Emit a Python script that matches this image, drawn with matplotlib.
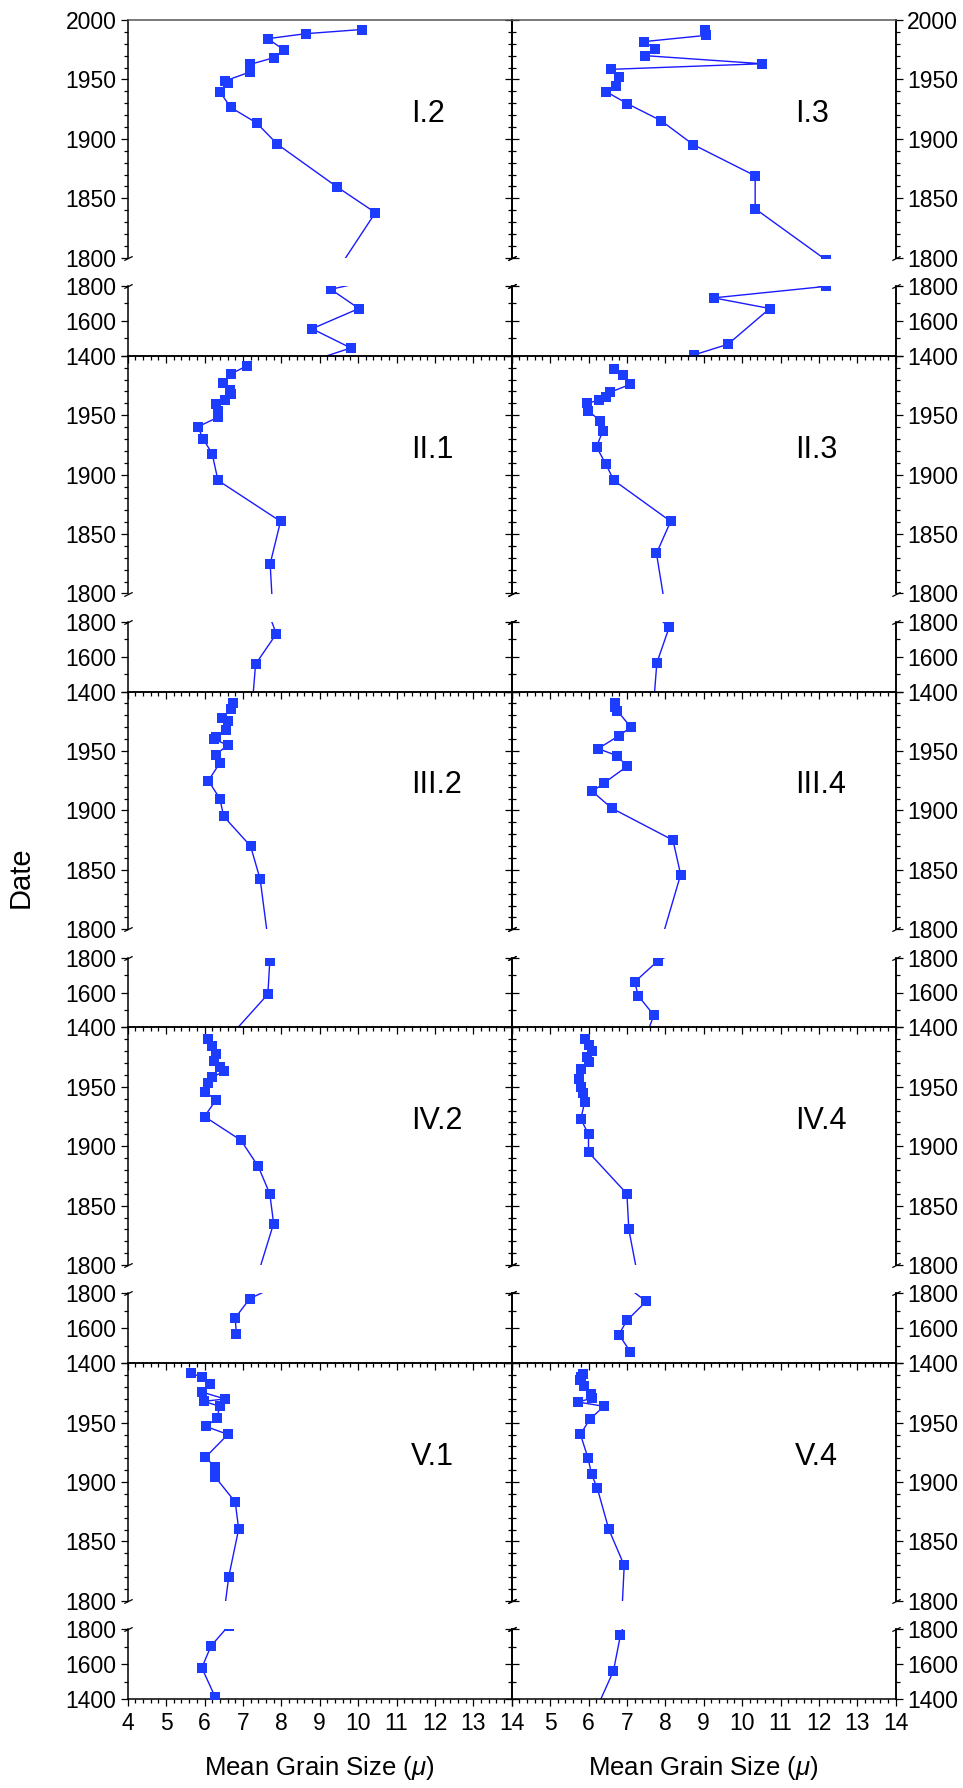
import matplotlib
matplotlib.use("Agg")
import matplotlib.pyplot as plt
from matplotlib.ticker import MultipleLocator

plt.rcParams['font.family'] = ['Liberation Sans', 'DejaVu Sans']
plt.rcParams['mathtext.fontset'] = 'custom'
plt.rcParams['mathtext.it'] = 'Liberation Sans:italic'
plt.rcParams['mathtext.rm'] = 'Liberation Sans'

# ---- data: (date, mean grain size) per core ----
I2_date = [1992, 1988.5, 1984.3, 1975, 1968.3, 1962.7, 1956.2, 1948.7, 1946.7, 1939.7, 1926.5,
           1913.3, 1895.4, 1859.8, 1837.9, 1781, 1671, 1555, 1445, 1350]
I2_size = [10.10, 8.64, 7.65, 8.06, 7.81, 7.19, 7.18, 6.53, 6.62, 6.40, 6.68,
           7.36, 7.90, 9.44, 10.45, 9.29, 10.02, 8.80, 9.81, 8.5]

I3_date = [1991.8, 1987.1, 1981.8, 1975.9, 1970, 1963.2, 1958.5, 1952.3, 1944.2, 1939.7, 1929.6,
           1915.3, 1895.1, 1868.9, 1841.2, 1798, 1732, 1671, 1466, 1406]
I3_size = [9.03, 9.07, 7.44, 7.74, 7.48, 10.52, 6.59, 6.80, 6.72, 6.46, 7.01,
           7.89, 8.73, 10.34, 10.34, 12.19, 9.26, 10.72, 9.63, 8.76]

II1_date = [1991.7, 1984.9, 1977.4, 1971.2, 1967.6, 1963.1, 1959.2, 1953.8, 1948.3, 1940.3, 1930.3,
            1917.6, 1895.2, 1860.7, 1825, 1731, 1557, 1340]
II1_size = [7.11, 6.70, 6.49, 6.66, 6.70, 6.53, 6.30, 6.35, 6.35, 5.83, 5.96,
            6.20, 6.35, 7.98, 7.71, 7.87, 7.33, 7.25]

II3_date = [1988.9, 1983.6, 1976, 1969.3, 1965.6, 1962.8, 1960, 1953.8, 1945.1, 1936.7, 1923.3,
            1909, 1895.2, 1860.7, 1833.8, 1768, 1565, 1340]
II3_size = [6.66, 6.89, 7.09, 6.56, 6.45, 6.27, 5.97, 5.99, 6.31, 6.37, 6.21,
            6.45, 6.66, 8.14, 7.77, 8.10, 7.78, 7.70]

III2_date = [1990, 1985, 1978, 1975, 1968, 1962, 1960, 1955, 1947, 1940, 1925,
             1910, 1895, 1870, 1842, 1780, 1590, 1370]
III2_size = [6.75, 6.70, 6.45, 6.60, 6.55, 6.30, 6.25, 6.60, 6.30, 6.40, 6.10,
             6.40, 6.50, 7.20, 7.45, 7.70, 7.65, 6.75]

III4_date = [1990, 1987, 1984, 1970, 1963, 1952, 1946, 1937, 1923, 1916, 1902,
             1875, 1846, 1780, 1660, 1580, 1470, 1350]
III4_size = [6.70, 6.70, 6.75, 7.10, 6.80, 6.25, 6.75, 7.00, 6.40, 6.10, 6.60,
             8.20, 8.40, 7.80, 7.20, 7.30, 7.70, 7.50]

IV2_date = [1990, 1984, 1978, 1972, 1967, 1963, 1958, 1953, 1946, 1939, 1925,
            1905, 1883, 1860, 1835, 1770, 1660, 1565]
IV2_size = [6.10, 6.20, 6.30, 6.25, 6.40, 6.50, 6.20, 6.10, 6.00, 6.30, 6.00,
            6.95, 7.40, 7.70, 7.80, 7.18, 6.80, 6.83]

IV4_date = [1990, 1985, 1980, 1975, 1971, 1965, 1957, 1950, 1945, 1937, 1923,
            1910, 1895, 1860, 1830, 1754, 1645, 1564, 1466]
IV4_size = [5.90, 6.00, 6.10, 5.95, 6.00, 5.80, 5.75, 5.80, 5.85, 5.90, 5.80,
            6.00, 6.00, 7.00, 7.05, 7.50, 7.00, 6.79, 7.09]

V1_date = [1991.8, 1988.1, 1982.5, 1975.8, 1969.9, 1967.9, 1963.7, 1953.6, 1946.8, 1940.1,
           1920.7, 1912.7, 1904.2, 1883.2, 1860.5, 1820.1, 1704, 1579, 1410]
V1_size = [5.64, 5.93, 6.14, 5.93, 6.53, 5.98, 6.40, 6.32, 6.03, 6.61,
           6.02, 6.28, 6.28, 6.80, 6.89, 6.63, 6.17, 5.93, 6.28]

V4_date = [1990.9, 1988.4, 1985.5, 1981, 1974.3, 1970.4, 1967.4, 1963.7, 1952.7, 1940.1,
           1919.9, 1906.4, 1894.7, 1860.1, 1829.8, 1764, 1561, 1340]
V4_size = [5.86, 5.80, 5.78, 5.88, 6.07, 6.09, 5.72, 6.40, 6.03, 5.79,
           5.99, 6.08, 6.23, 6.53, 6.93, 6.83, 6.65, 6.20]

panels = [
    [("I.2", I2_date, I2_size), ("I.3", I3_date, I3_size)],
    [("II.1", II1_date, II1_size), ("II.3", II3_date, II3_size)],
    [("III.2", III2_date, III2_size), ("III.4", III4_date, III4_size)],
    [("IV.2", IV2_date, IV2_size), ("IV.4", IV4_date, IV4_size)],
    [("V.1", V1_date, V1_size), ("V.4", V4_date, V4_size)],
]
x_ticks = list(range(4, 15))

# ---- layout in pixels (top-left origin) ----
W, H = 963, 1788
LEFT = [127.7, 511.7]
AW = 384
TOP0, ROWH, UPH, GAP, LOWH = 20, 335.8, 237.7, 28.3, 69.8

LINE_C = "#1a1aff"
MARK_C = "#1c3cff"
TICK_FS = 16.5


def frac(x, y, w, h):
    return [x / W, 1 - (y + h) / H, w / W, h / H]


def style_y(ax, col, minor, ticks, labels):
    # left side ticks from the main axis, right side from a secondary axis
    ax.set_yticks(ticks)
    ax.set_yticklabels(labels if col == 0 else [])
    ax.yaxis.set_minor_locator(MultipleLocator(minor))
    ax.tick_params(axis="y", which="both", left=True, right=False,
                   direction="out" if col == 0 else "in", labelsize=TICK_FS, pad=3,
                   width=0.9)
    ax.tick_params(axis="y", which="major", length=5)
    ax.tick_params(axis="y", which="minor", length=3)
    sec = ax.secondary_yaxis("right")
    sec.set_yticks(ticks)
    sec.set_yticklabels(labels if col == 1 else [])
    sec.yaxis.set_minor_locator(MultipleLocator(minor))
    sec.tick_params(axis="y", which="both", direction="in" if col == 0 else "out",
                    labelsize=TICK_FS, pad=3, width=0.9)
    sec.tick_params(axis="y", which="major", length=5)
    sec.tick_params(axis="y", which="minor", length=3)
    sec.spines["right"].set_linewidth(1.1)


brk = dict(marker=[(-1, -0.5), (1, 0.5)], markersize=6, linestyle="none",
           color="k", mec="k", mew=0.9, clip_on=False)

fig = plt.figure(figsize=(W / 100, H / 100), dpi=100)

for r, row in enumerate(panels):
    T = TOP0 + r * ROWH
    for c, (name, dates, sizes) in enumerate(row):
        up = fig.add_axes(frac(LEFT[c], T, AW, UPH))
        lo = fig.add_axes(frac(LEFT[c], T + UPH + GAP, AW, LOWH))
        for ax in (up, lo):
            ax.set_facecolor("none")
            ax.plot(sizes, dates, color=LINE_C, lw=1.0, zorder=2)
            ax.plot(sizes, dates, ls="none", marker="s", ms=7.2, mew=0,
                    color=MARK_C, zorder=3)
            ax.set_xlim(4, 14)
            for s in ax.spines.values():
                s.set_linewidth(1.1)

        # upper part: 1800-2000
        up.set_ylim(1800, 2000)
        up.spines["bottom"].set_visible(False)
        up.tick_params(axis="x", which="both", bottom=False, top=False,
                       labelbottom=False)
        if r == 0:
            up.spines["top"].set_color("#555555")
        ulabels = ["1800", "1850", "1900", "1950", "2000" if r == 0 else ""]
        style_y(up, c, 10, [1800, 1850, 1900, 1950, 2000], ulabels)
        up.text(0.738, 0.605, name, transform=up.transAxes, fontsize=22,
                ha="left", va="center")
        up.plot([0, 1], [0, 0], transform=up.transAxes, **brk)

        # lower part: 1400-1800
        lo.set_ylim(1400, 1800)
        lo.spines["top"].set_visible(False)
        style_y(lo, c, 100, [1400, 1600, 1800], ["1400", "1600", "1800"])
        lo.set_xticks(x_ticks)
        xl = [str(v) for v in x_ticks]
        if c == 1:
            xl[0] = ""  # shares the spot of the left panel's "14"
        lo.set_xticklabels(xl)
        lo.xaxis.set_minor_locator(MultipleLocator(0.2))
        lo.tick_params(axis="x", which="both", direction="out", top=False,
                       labelbottom=(r == 4), labelsize=TICK_FS, pad=4, width=0.9)
        lo.tick_params(axis="x", which="major", length=5)
        lo.tick_params(axis="x", which="minor", length=3)
        lo.plot([0, 1], [1, 1], transform=lo.transAxes, **brk)

fig.text(21 / W, 1 - 877 / H, "Date", rotation=90, fontsize=21, ha="center", va="center")
for c in range(2):
    fig.text((LEFT[c] + AW / 2) / W, 1 - 1768 / H, r"Mean Grain Size ($\mathit{\mu}$)",
             fontsize=18.5, ha="center", va="center")

fig.savefig("out.png", dpi=100, facecolor="white")
